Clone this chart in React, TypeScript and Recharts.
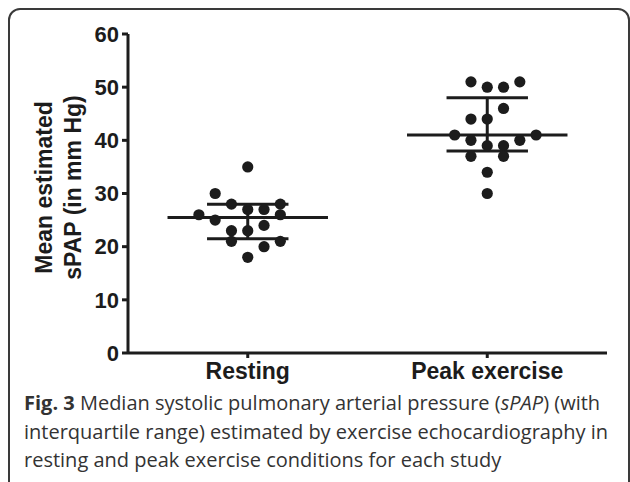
import React from 'react';
import { ScatterChart, Scatter, XAxis, YAxis, ReferenceLine } from 'recharts';

const categories = ['Resting', 'Peak exercise'];
const categoryPos = [1, 3];
const yTicks = [0, 10, 20, 30, 40, 50, 60];

// sPAP per study, with the column slot each dot sits in
const restingValues = [35, 30, 28, 27, 27, 28, 26, 25, 26, 23, 23, 24, 21, 21, 20, 18];
const restingSlots = [0, -2, -1, 0, 1, 2, -3, -2, 2, -1, 0, 1, -1, 2, 1, 0];
const peakValues = [51, 50, 50, 51, 46, 44, 44, 41, 41, 40, 40, 39, 39, 37, 37, 34, 30];
const peakSlots = [-1, 0, 1, 2, 1, -1, 0, -2, 3, -1, 2, 0, 1, -1, 1, 0, 0];

const medians = [25.5, 41];
const lowerQ = [21.5, 38];
const upperQ = [28, 48];

const SLOT = 0.136;
const MED_HALF = 0.67;
const IQR_HALF = 0.34;
const INK = '#1c1c1c';
const FONT = 'Arial, "Liberation Sans", sans-serif';

const toPoints = (vals: number[], slots: number[], cat: number) =>
  vals.map((v, i) => ({ x: cat + slots[i] * SLOT, y: v }));

const restingData = toPoints(restingValues, restingSlots, categoryPos[0]);
const peakData = toPoints(peakValues, peakSlots, categoryPos[1]);

const Dot = (props: any) => <circle cx={props.cx} cy={props.cy} r={5.6} fill={INK} />;

const YTitle = (props: any) => {
  const vb = props.viewBox;
  const cy = vb.y + vb.height / 2 - 6;
  return (
    <g>
      <text transform={`translate(52,${cy}) rotate(-90)`} textAnchor="middle" fill={INK}
        style={{ fontFamily: FONT, fontWeight: 700, fontSize: 23 }}>
        Mean estimated
      </text>
      <text transform={`translate(81,${cy}) rotate(-90)`} textAnchor="middle" fill={INK}
        style={{ fontFamily: FONT, fontWeight: 700, fontSize: 23 }}>
        sPAP (in mm Hg)
      </text>
    </g>
  );
};

export default function App() {
  const yTick = { fill: INK, fontSize: 22, fontWeight: 700, fontFamily: FONT };
  const xTick = { fill: INK, fontSize: 23, fontWeight: 700, fontFamily: FONT };
  return (
    <div style={{ position: 'absolute', left: 0, top: 0, width: 630, height: 482, background: '#fff', overflow: 'hidden' }}>
      <div style={{ position: 'absolute', left: 8, top: 8, width: 622, height: 490, border: '2px solid #3a3a3a', borderRadius: 12, boxSizing: 'border-box' }} />
      <div style={{ position: 'absolute', left: 0, top: 0 }}>
        <ScatterChart width={630} height={400} margin={{ top: 34, right: 23, left: 0, bottom: 7 }}>
          <XAxis
            type="number"
            dataKey="x"
            domain={[0, 4]}
            ticks={categoryPos}
            tickFormatter={(v: number) => categories[categoryPos.indexOf(v)] ?? ''}
            height={40}
            stroke={INK}
            strokeWidth={3}
            tickSize={5}
            tickMargin={5}
            tick={xTick}
            allowDataOverflow
          />
          <YAxis
            type="number"
            dataKey="y"
            domain={[0, 60]}
            ticks={yTicks}
            width={128}
            stroke={INK}
            strokeWidth={3}
            tickSize={6}
            tickMargin={3}
            tick={yTick}
            label={{ content: YTitle }}
          />
          {categoryPos.map((c, i) => (
            <ReferenceLine key={`m${i}`} segment={[{ x: c - MED_HALF, y: medians[i] }, { x: c + MED_HALF, y: medians[i] }]} stroke={INK} strokeWidth={3} />
          ))}
          {categoryPos.map((c, i) => (
            <ReferenceLine key={`l${i}`} segment={[{ x: c - IQR_HALF, y: lowerQ[i] }, { x: c + IQR_HALF, y: lowerQ[i] }]} stroke={INK} strokeWidth={3} />
          ))}
          {categoryPos.map((c, i) => (
            <ReferenceLine key={`u${i}`} segment={[{ x: c - IQR_HALF, y: upperQ[i] }, { x: c + IQR_HALF, y: upperQ[i] }]} stroke={INK} strokeWidth={3} />
          ))}
          {categoryPos.map((c, i) => (
            <ReferenceLine key={`v${i}`} segment={[{ x: c, y: lowerQ[i] }, { x: c, y: upperQ[i] }]} stroke={INK} strokeWidth={3} />
          ))}
          <Scatter data={restingData} shape={Dot} isAnimationActive={false} />
          <Scatter data={peakData} shape={Dot} isAnimationActive={false} />
        </ScatterChart>
      </div>
      <div style={{ position: 'absolute', left: 24, top: 389, width: 606, fontFamily: '"Open Sans", sans-serif', fontSize: 20, lineHeight: '28.5px', color: '#333', whiteSpace: 'nowrap' }}>
        <b>Fig. 3</b> Median systolic pulmonary arterial pressure (<i>sPAP</i>) (with
        <br />interquartile range) estimated by exercise echocardiography in
        <br />resting and peak exercise conditions for each study
      </div>
    </div>
  );
}
